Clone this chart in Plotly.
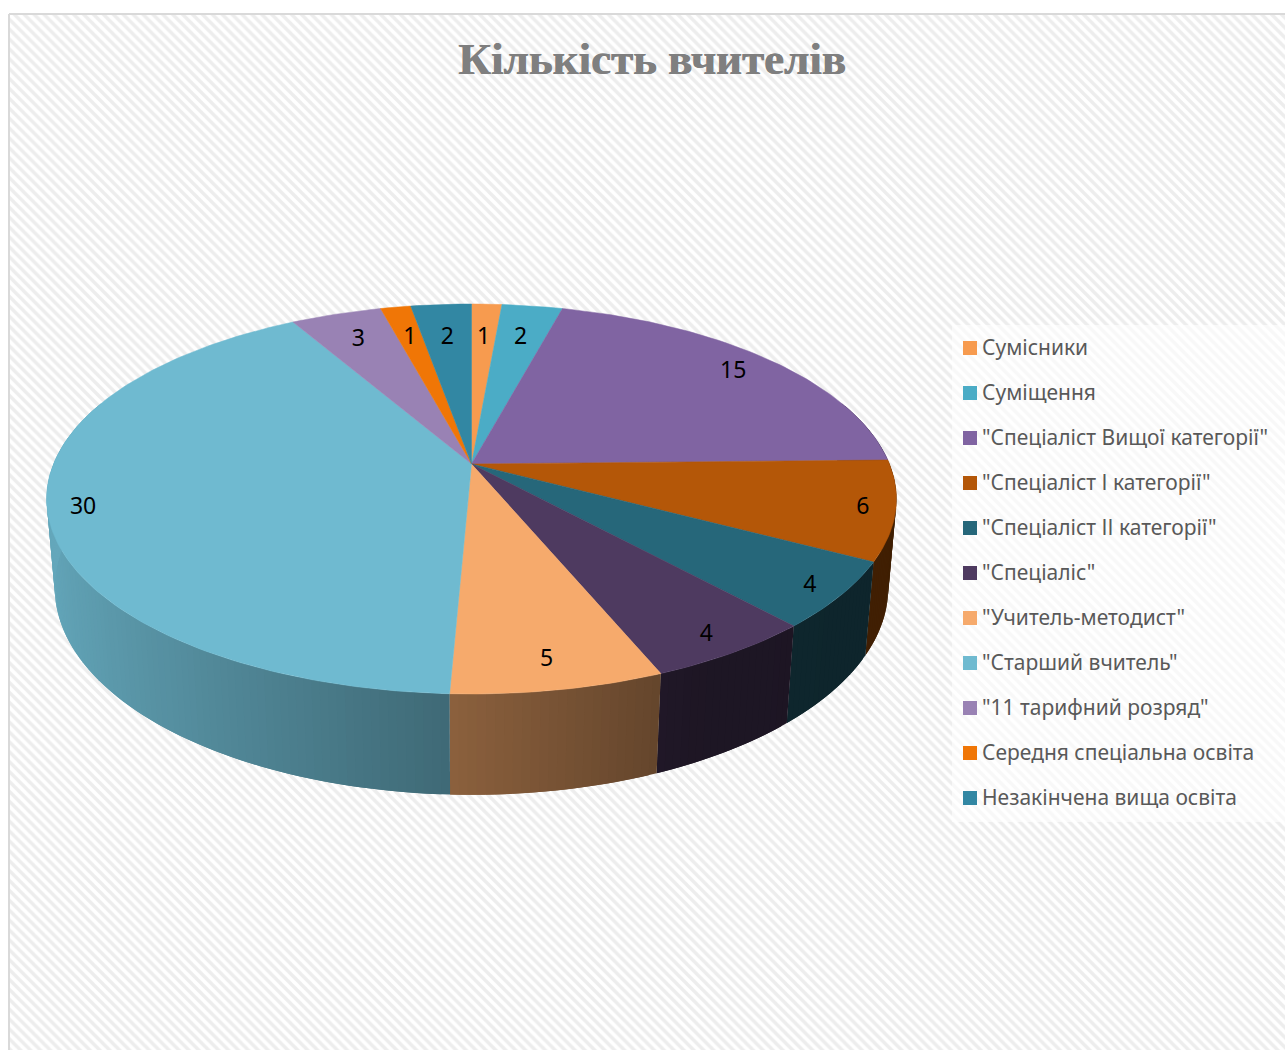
import numpy as np
import plotly.graph_objects as go

TITLE = "Кількість вчителів"
categories = ["Сумісники", "Суміщення", '"Спеціаліст Вищої категорії"', '"Спеціаліст І категорії"',
              '"Спеціаліст ІІ категорії"', '"Спеціаліс"', '"Учитель-методист"', '"Старший вчитель"',
              '"11 тарифний розряд"', "Середня спеціальна освіта", "Незакінчена вища освіта"]
values = [1, 2, 15, 6, 4, 4, 5, 30, 3, 1, 2]
colors = ["#F79B4F", "#4BACC6", "#8064A2", "#B45708", "#26677A", "#4E3A60", "#F6AA6C", "#6FBAD0",
          "#9982B4", "#F07606", "#3287A3"]

# projection of the pie (perspective view of a unit disc)
CX, CY = 471.5, 464.0
A, D, PERSP, DEPTH_Y, DEPTH_W = 418.0, 188.7, -0.1795, 89.0, 0.019


def project(u, v, z=0.0):
    w = 1 + PERSP * v + DEPTH_W * z
    return CX + A * u / w, CY + (D * v + DEPTH_Y * z) / w


def rim(t, z=0.0):
    return project(np.sin(t), -np.cos(t), z)


def shade(hex_color, k):
    rgb = [int(hex_color[i:i + 2], 16) for i in (1, 3, 5)]
    return "rgb(%d,%d,%d)" % tuple(round(c * k) for c in rgb)


fracs = np.cumsum([0] + values) / sum(values) * 2 * np.pi
fig = go.Figure()

# hatched chart area
fig.add_trace(go.Scatter(x=[9, 1300, 1300, 9, 9], y=[14, 14, 1060, 1060, 14], mode="lines", fill="toself",
                         line=dict(color="#d9d9d9", width=2), fillcolor="#ffffff",
                         fillpattern=dict(shape="\\", size=7, solidity=0.5, fgcolor="#dcdcdc", bgcolor="#ffffff"),
                         hoverinfo="skip", showlegend=False))

# translucent legend panel
fig.add_trace(go.Scatter(x=[952, 1290, 1290, 952, 952], y=[325, 325, 822, 822, 325], mode="lines", fill="toself",
                         fillcolor="rgba(255,255,255,0.6)", line=dict(width=0), hoverinfo="skip", showlegend=False))

# side wall, in short shaded strips; each strip overlaps the next so no seam shows
SHADE_U = [-1.0, -0.05, 0.45, 1.0]
SHADE_K = [0.90, 0.57, 0.38, 0.35]
STEP = np.radians(1.0)
for i, col in enumerate(colors):
    a0, a1 = max(fracs[i], np.radians(70)), min(fracs[i + 1], np.radians(290))
    if a1 <= a0:
        continue
    n = max(1, int((a1 - a0) / STEP))
    edges = np.linspace(a0, a1, n + 1)
    for s in range(n):
        end = edges[s + 2] if s + 2 <= n else edges[s + 1]
        t = np.linspace(edges[s], end, 4)
        x0, y0 = rim(t)
        x1, y1 = rim(t[::-1], 1.0)
        x = np.r_[x0, x1, x0[0]]
        y = np.r_[y0, y1, y0[0]]
        mid_t = (edges[s] + edges[s + 1]) / 2
        c = shade(col, float(np.interp(np.sin(mid_t), SHADE_U, SHADE_K)))
        fig.add_trace(go.Scatter(x=x, y=y, mode="lines", fill="toself", fillcolor=c,
                                 line=dict(width=0), hoverinfo="skip", showlegend=False))

# top face
for i, col in enumerate(colors):
    n = max(4, int(np.degrees(fracs[i + 1] - fracs[i])))
    t = np.linspace(fracs[i], fracs[i + 1], n + 1)
    rx, ry = rim(t)
    fig.add_trace(go.Scatter(x=np.r_[CX, rx, CX], y=np.r_[CY, ry, CY], mode="lines", fill="toself",
                             fillcolor=col, line=dict(color=col, width=0.5), name=categories[i],
                             text=f"{categories[i]}: {values[i]}", hoverinfo="text", showlegend=False))

# data labels, inset from the rim along the line to the apex (wider labels sit further in)
mid = (fracs[:-1] + fracs[1:]) / 2
ex, ey = rim(mid)
dist = np.hypot(ex - CX, ey - CY)
inset = np.array([36.0 if v >= 10 else 33.0 for v in values])
lx = ex - (ex - CX) / dist * inset
ly = ey - (ey - CY) / dist * inset + 1.5
fig.add_trace(go.Scatter(x=lx, y=ly, mode="text", text=[str(v) for v in values],
                         textposition="middle center", textfont=dict(family="Noto Sans", size=23, color="#000000"),
                         hoverinfo="skip", showlegend=False))

# legend swatches and labels
rows = [348 + 45 * i for i in range(len(categories))]
fig.add_trace(go.Scatter(x=[970] * len(rows), y=rows, mode="markers", hoverinfo="skip", showlegend=False,
                         marker=dict(symbol="square", size=14, color=colors, line=dict(width=0))))
fig.add_trace(go.Scatter(x=[982] * len(rows), y=[r + 2 for r in rows], mode="text", text=categories,
                         textposition="middle right",
                         textfont=dict(family="Noto Sans", size=21, color="#595959"),
                         hoverinfo="skip", showlegend=False))

fig.update_layout(
    width=1285, height=1050, margin=dict(l=0, r=0, t=0, b=0), showlegend=False,
    paper_bgcolor="#ffffff", plot_bgcolor="#ffffff",
    xaxis=dict(range=[0, 1285], visible=False, fixedrange=True),
    yaxis=dict(range=[1050, 0], visible=False, fixedrange=True),
    title=dict(text="<b>" + TITLE + "</b>", x=652 / 1285, xanchor="center", y=1 - 58 / 1050, yanchor="middle",
               font=dict(family="Liberation Serif", size=45, color="#7f7f7f", shadow="0.7px 0 0 #7f7f7f")),
)

fig.write_html("out.html", config=dict(displayModeBar=False), post_script="document.body.style.margin='0';")
